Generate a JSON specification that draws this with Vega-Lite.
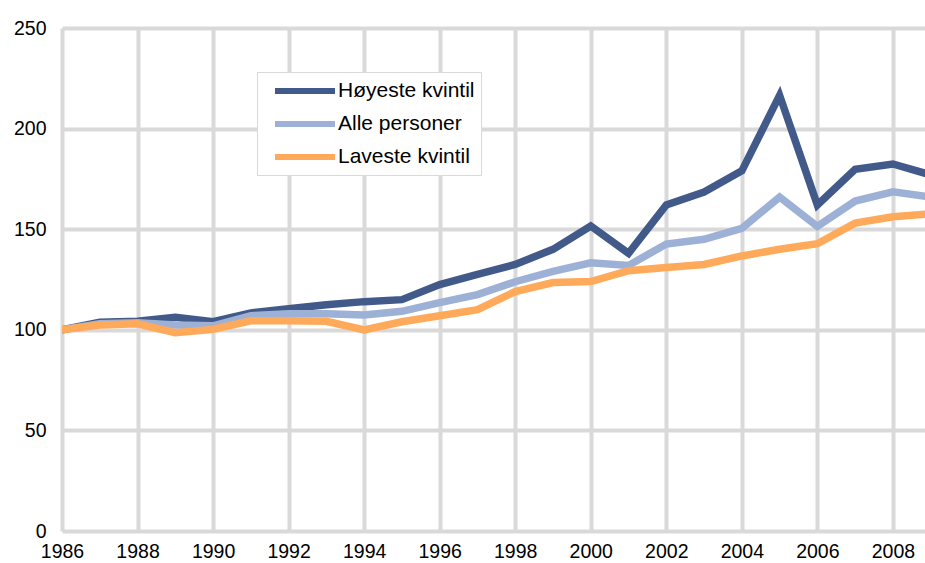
{
  "$schema": "https://vega.github.io/schema/vega-lite/v6.json",
  "width": 863,
  "height": 503,
  "autosize": {"type": "none"},
  "padding": {"left": 62, "top": 28, "right": 0, "bottom": 32},
  "background": "white",
  "config": {
    "view": {"stroke": null},
    "font": "Liberation Sans",
    "axis": {"labelFont": "Liberation Sans", "labelColor": "#000000", "labelFontSize": 19.5, "ticks": false, "domain": false, "grid": true, "gridColor": "#D9D9D9", "gridWidth": 4, "title": null}
  },
  "datasets": {
    "d": [
      {"year": 1986, "serie": "Høyeste kvintil", "value": 100},
      {"year": 1987, "serie": "Høyeste kvintil", "value": 103.7},
      {"year": 1988, "serie": "Høyeste kvintil", "value": 104.2},
      {"year": 1989, "serie": "Høyeste kvintil", "value": 106.2},
      {"year": 1990, "serie": "Høyeste kvintil", "value": 104},
      {"year": 1991, "serie": "Høyeste kvintil", "value": 108.4},
      {"year": 1992, "serie": "Høyeste kvintil", "value": 110.5},
      {"year": 1993, "serie": "Høyeste kvintil", "value": 112.5},
      {"year": 1994, "serie": "Høyeste kvintil", "value": 114},
      {"year": 1995, "serie": "Høyeste kvintil", "value": 115},
      {"year": 1996, "serie": "Høyeste kvintil", "value": 122.5},
      {"year": 1997, "serie": "Høyeste kvintil", "value": 127.5},
      {"year": 1998, "serie": "Høyeste kvintil", "value": 132.5},
      {"year": 1999, "serie": "Høyeste kvintil", "value": 140},
      {"year": 2000, "serie": "Høyeste kvintil", "value": 151.6},
      {"year": 2001, "serie": "Høyeste kvintil", "value": 138},
      {"year": 2002, "serie": "Høyeste kvintil", "value": 162},
      {"year": 2003, "serie": "Høyeste kvintil", "value": 168.5},
      {"year": 2004, "serie": "Høyeste kvintil", "value": 179},
      {"year": 2005, "serie": "Høyeste kvintil", "value": 216.5},
      {"year": 2006, "serie": "Høyeste kvintil", "value": 162},
      {"year": 2007, "serie": "Høyeste kvintil", "value": 179.8},
      {"year": 2008, "serie": "Høyeste kvintil", "value": 182.4},
      {"year": 2009, "serie": "Høyeste kvintil", "value": 177},
      {"year": 1986, "serie": "Alle personer", "value": 100},
      {"year": 1987, "serie": "Alle personer", "value": 103},
      {"year": 1988, "serie": "Alle personer", "value": 103.5},
      {"year": 1989, "serie": "Alle personer", "value": 102.4},
      {"year": 1990, "serie": "Alle personer", "value": 102},
      {"year": 1991, "serie": "Alle personer", "value": 107},
      {"year": 1992, "serie": "Alle personer", "value": 108},
      {"year": 1993, "serie": "Alle personer", "value": 108},
      {"year": 1994, "serie": "Alle personer", "value": 107.4},
      {"year": 1995, "serie": "Alle personer", "value": 109.2},
      {"year": 1996, "serie": "Alle personer", "value": 113.5},
      {"year": 1997, "serie": "Alle personer", "value": 117.5},
      {"year": 1998, "serie": "Alle personer", "value": 123.9},
      {"year": 1999, "serie": "Alle personer", "value": 129},
      {"year": 2000, "serie": "Alle personer", "value": 133.3},
      {"year": 2001, "serie": "Alle personer", "value": 132},
      {"year": 2002, "serie": "Alle personer", "value": 142.6},
      {"year": 2003, "serie": "Alle personer", "value": 145},
      {"year": 2004, "serie": "Alle personer", "value": 150.4},
      {"year": 2005, "serie": "Alle personer", "value": 166},
      {"year": 2006, "serie": "Alle personer", "value": 151.4},
      {"year": 2007, "serie": "Alle personer", "value": 164},
      {"year": 2008, "serie": "Alle personer", "value": 168.6},
      {"year": 2009, "serie": "Alle personer", "value": 166},
      {"year": 1986, "serie": "Laveste kvintil", "value": 100},
      {"year": 1987, "serie": "Laveste kvintil", "value": 102.4},
      {"year": 1988, "serie": "Laveste kvintil", "value": 103},
      {"year": 1989, "serie": "Laveste kvintil", "value": 98.6},
      {"year": 1990, "serie": "Laveste kvintil", "value": 100.2},
      {"year": 1991, "serie": "Laveste kvintil", "value": 104.5},
      {"year": 1992, "serie": "Laveste kvintil", "value": 104.5},
      {"year": 1993, "serie": "Laveste kvintil", "value": 104.2},
      {"year": 1994, "serie": "Laveste kvintil", "value": 100},
      {"year": 1995, "serie": "Laveste kvintil", "value": 104},
      {"year": 1996, "serie": "Laveste kvintil", "value": 107},
      {"year": 1997, "serie": "Laveste kvintil", "value": 110},
      {"year": 1998, "serie": "Laveste kvintil", "value": 119},
      {"year": 1999, "serie": "Laveste kvintil", "value": 123.5},
      {"year": 2000, "serie": "Laveste kvintil", "value": 124},
      {"year": 2001, "serie": "Laveste kvintil", "value": 129.4},
      {"year": 2002, "serie": "Laveste kvintil", "value": 131},
      {"year": 2003, "serie": "Laveste kvintil", "value": 132.5},
      {"year": 2004, "serie": "Laveste kvintil", "value": 136.7},
      {"year": 2005, "serie": "Laveste kvintil", "value": 140},
      {"year": 2006, "serie": "Laveste kvintil", "value": 142.8},
      {"year": 2007, "serie": "Laveste kvintil", "value": 153},
      {"year": 2008, "serie": "Laveste kvintil", "value": 156.2},
      {"year": 2009, "serie": "Laveste kvintil", "value": 157.6}
    ]
  },
  "data": {"name": "d"},
  "encoding": {
    "x": {"field": "year", "type": "quantitative", "scale": {"domain": [1986, 2008.85], "nice": false, "zero": false},
      "axis": {"values": [1986, 1988, 1990, 1992, 1994, 1996, 1998, 2000, 2002, 2004, 2006, 2008], "format": "d", "labelPadding": 11, "labelOverlap": false, "labelBound": false, "labelFlush": false}},
    "y": {"field": "value", "type": "quantitative", "scale": {"domain": [0, 250], "nice": false},
      "axis": {"values": [0, 50, 100, 150, 200, 250], "labelPadding": 16}},
    "color": {"field": "serie", "type": "nominal",
      "scale": {"domain": ["Høyeste kvintil", "Alle personer", "Laveste kvintil"], "range": ["#415A8A", "#9DB0D6", "#FFAA5A"]},
      "legend": {"title": null, "orient": "none", "legendX": 195, "legendY": 44, "symbolType": "M-3,0H3", "symbolSize": 400, "symbolStrokeWidth": 6, "symbolStrokeCap": "round", "labelFontSize": 21, "labelFont": "Liberation Sans", "labelColor": "#000000", "labelOffset": 20, "padding": 6, "symbolOffset": 29, "rowPadding": 8, "strokeColor": "#D9D9D9", "fillColor": "#FFFFFF", "labelLimit": 300}}
  },
  "layer": [
    {"transform": [{"filter": "datum.serie == 'Høyeste kvintil'"}], "mark": {"type": "line", "strokeWidth": 7.5, "clip": true}},
    {"transform": [{"filter": "datum.serie == 'Alle personer'"}], "mark": {"type": "line", "strokeWidth": 7.5, "clip": true}},
    {"transform": [{"filter": "datum.serie == 'Laveste kvintil'"}], "mark": {"type": "line", "strokeWidth": 7.5, "clip": true}}
  ]
}
